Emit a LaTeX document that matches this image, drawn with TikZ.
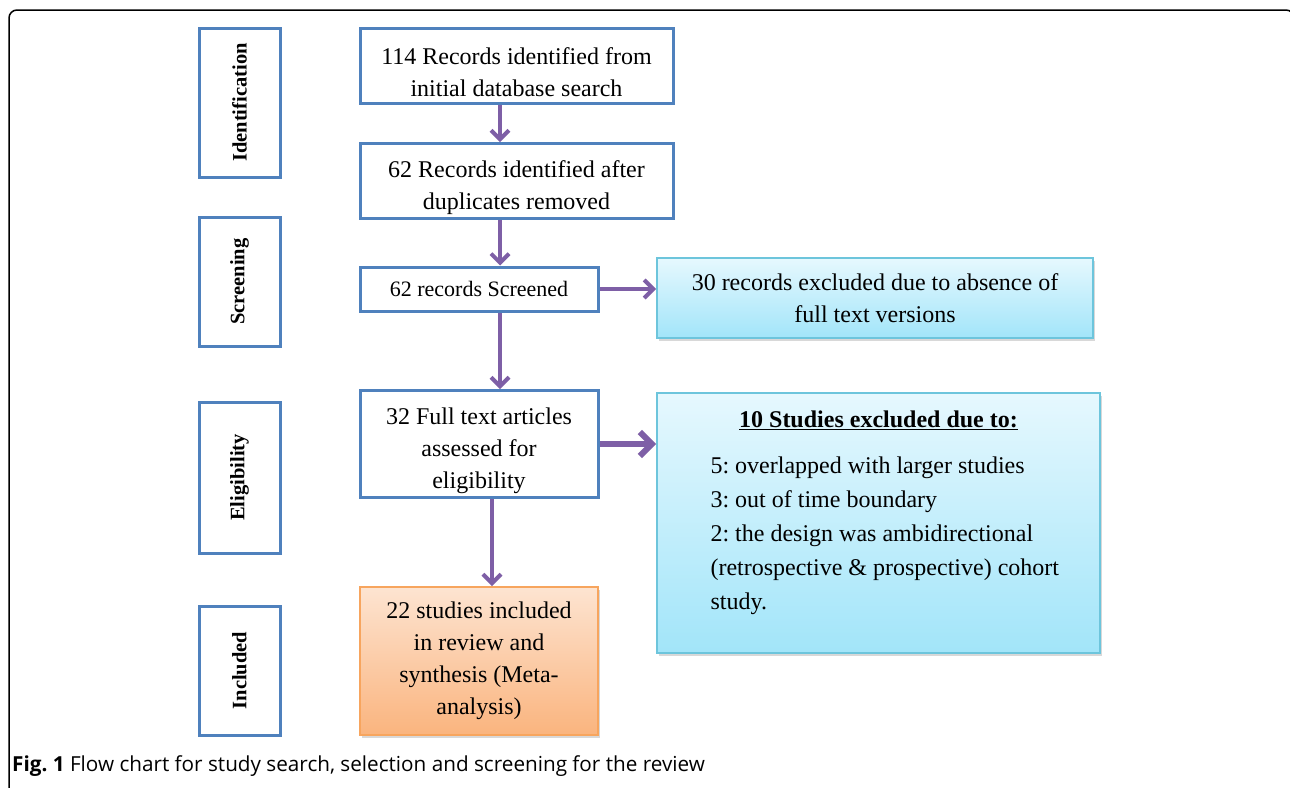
\documentclass[tikz,border=0pt]{standalone}
\usepackage{fontspec}
\setmainfont{Liberation Serif}
\newfontfamily\captionfont{Open Sans}
\usepackage{tikz}
\usetikzlibrary{arrows.meta,shadows}
\definecolor{stageblue}{HTML}{4F81BD}
\definecolor{flowpurple}{HTML}{7E5FA6}
\definecolor{exclline}{HTML}{6DC5DC}
\definecolor{excltop}{HTML}{E6F8FE}
\definecolor{exclbottom}{HTML}{A2E5F9}
\definecolor{inclline}{HTML}{F7A55E}
\definecolor{incltop}{HTML}{FDE4D1}
\definecolor{inclbottom}{HTML}{FAB47E}
\newcommand{\toppad}{\rule{0pt}{31pt}}
\tikzstyle{stage}=[
	rectangle,
	draw=stageblue,
	line width=3,
	rotate=90,
	font=\fontsize{20.5}{24}\selectfont\bfseries]
\tikzstyle{record}=[
	rectangle,
	draw=stageblue,
	line width=3,
	fill=white,
	align=center,
	font=\fontsize{24}{32}\selectfont]
\tikzstyle{excluded}=[
	record,
	draw=exclline,
	line width=2,
	top color=excltop,
	bottom color=exclbottom,
	drop shadow={opacity=0.3,shadow xshift=2pt,shadow yshift=-3pt}]
\tikzstyle{included}=[
	excluded,
	draw=inclline,
	top color=incltop,
	bottom color=inclbottom]
\tikzstyle{flow}=[
	->,
	draw=flowpurple,
	line width=4]

\begin{document}
\frenchspacing
\begin{tikzpicture}[x=1pt,y=-1pt,>={Straight Barb[length=9pt,width=18pt]}]
	\useasboundingbox (0,0) rectangle (1290,787);
	\fill[white] (0,0) rectangle (1290,787);
	\draw[line width=1.5,rounded corners=8] (9,800) |- (1294,10) -- (1294,40);
	% stages of the review
	\node[stage,minimum width=149,minimum height=81] (identification) at (239.5,102.5) {Identification};
	\node[stage,minimum width=129,minimum height=81] (screening) at (239.5,281.5) {Screening};
	\node[stage,minimum width=151,minimum height=81] (eligibility) at (239.5,477.5) {Eligibility};
	\node[stage,minimum width=129,minimum height=81] (inclusion) at (239.5,670.5) {Included};
	% main flow
	\node[record,minimum width=313,minimum height=75] (identified) at (516.5,65.5) {\toppad 114 Records identified from\\initial database search};
	\node[record,minimum width=313,minimum height=74] (deduplicated) at (516.5,181) {\toppad 62 Records identified after\\duplicates removed};
	\node[record,minimum width=238,minimum height=44,font=\fontsize{22}{28}\selectfont] (screened) at (479,289) {62 records Screened};
	\node[record,minimum width=238,minimum height=104] (assessed) at (479,444) {\toppad 32 Full text articles\\assessed for\\eligibility};
	\node[included,minimum width=238,minimum height=148] (synthesis) at (479,661) {22 studies included\\in review and\\synthesis (Meta-\\analysis)};
	% exclusions
	\node[excluded,minimum width=436,minimum height=80] (nofulltext) at (875,298) {30 records excluded due to absence of\\full text versions};
	\node[excluded,minimum width=443,minimum height=260] (ineligible) at (878.5,523) {};
	\node[anchor=north,yshift=-15,font=\fontsize{24}{34}\selectfont\bfseries] (reasonstitle) at (ineligible.north) {\underline{10 Studies excluded due to:}};
	\node[anchor=north west,xshift=51,yshift=-61,align=left,font=\fontsize{24}{34}\selectfont] (reasons) at (ineligible.north west) {5: overlapped with larger studies\\
		3: out of time boundary\\
		2: the design was ambidirectional\\
		(retrospective \& prospective) cohort\\
		study.};
	% arrows
	\coordinate (trunk) at (500,0);
	\coordinate (lasttrunk) at (492,0);
	\draw[flow] (identified.south -| trunk) -- (deduplicated.north -| trunk);
	\draw[flow] (deduplicated.south -| trunk) -- (screened.north -| trunk);
	\draw[flow] (screened.south -| trunk) -- (assessed.north -| trunk);
	\draw[flow] (assessed.south -| lasttrunk) -- (synthesis.north -| lasttrunk);
	\draw[flow] (screened.east) -- (screened.east -| nofulltext.west);
	\draw[flow,line width=6,>={Straight Barb[length=12pt,width=24pt]}] (assessed.east) -- (assessed.east -| ineligible.west);
	\node[anchor=west,inner sep=0,font=\captionfont\fontsize{20.7}{24}\selectfont] (caption) at (12,766) {\textbf{Fig. 1} Flow chart for study search, selection and screening for the review};
\end{tikzpicture}
\end{document}
